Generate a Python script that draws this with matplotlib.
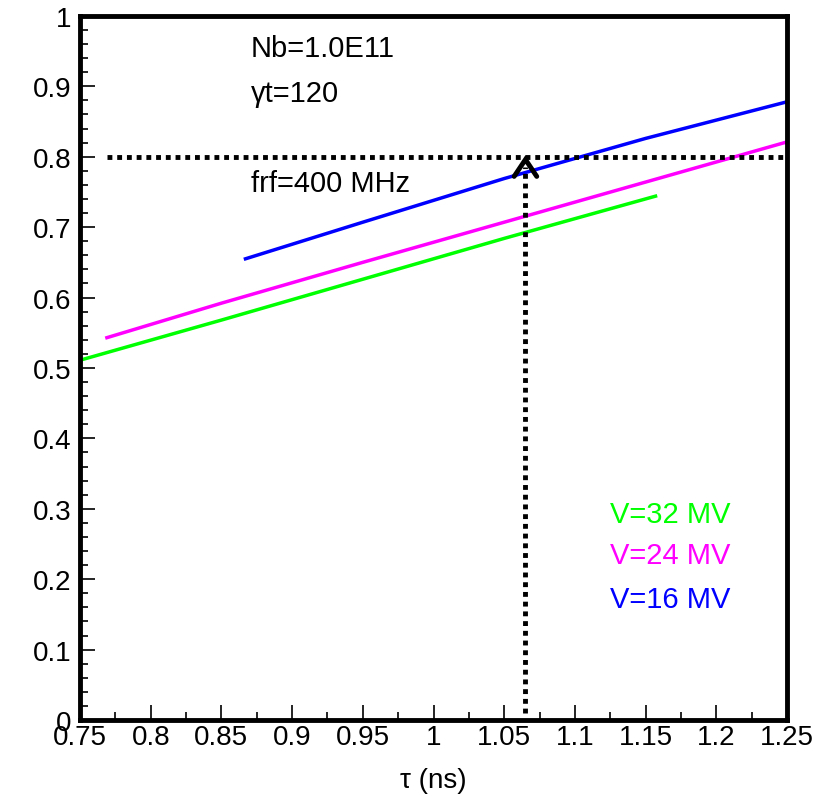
import numpy as np
import matplotlib
matplotlib.use("Agg")
import matplotlib.pyplot as plt
import matplotlib.ticker as mticker

plt.rcParams['font.family'] = ['Liberation Sans', 'DejaVu Sans']

# curves
tau_32 = [0.75, 0.85, 0.95, 1.05, 1.157]
val_32 = [0.511, 0.568, 0.626, 0.684, 0.744]

tau_24 = [0.769, 0.85, 0.95, 1.05, 1.15, 1.25]
val_24 = [0.543, 0.592, 0.650, 0.707, 0.764, 0.821]

tau_16 = [0.867, 0.95, 1.05, 1.15, 1.25]
val_16 = [0.655, 0.707, 0.769, 0.826, 0.878]

# reference lines
target_tau = 1.065
target_val = 0.80
hline_start = 0.769

fig = plt.figure(figsize=(8.31, 8.04), dpi=100)
ax = fig.add_axes((0.0963, 0.1032, 0.8508, 0.8758))

ax.plot(tau_32, val_32, color='#00ff00', lw=2.5)
ax.plot(tau_24, val_24, color='#ff00ff', lw=2.5)
ax.plot(tau_16, val_16, color='#0000ff', lw=2.5)

ax.plot([hline_start, 1.25], [target_val, target_val], color='k', lw=3.5,
        linestyle=(0, (1, 1)))
ax.plot([target_tau, target_tau], [0.01, target_val - 0.015], color='k', lw=3.5,
        linestyle=(0, (1, 1)))
# pointe de fleche
ax.plot([target_tau - 0.008, target_tau, target_tau + 0.008],
        [target_val - 0.028, target_val - 0.004, target_val - 0.028],
        color='k', lw=3.5, solid_capstyle='round', solid_joinstyle='miter')

ax.set_xlim(0.75, 1.25)
ax.set_ylim(0, 1)
ax.xaxis.set_major_locator(mticker.MultipleLocator(0.05))
ax.xaxis.set_minor_locator(mticker.MultipleLocator(0.025))
ax.yaxis.set_major_locator(mticker.MultipleLocator(0.1))
ax.yaxis.set_minor_locator(mticker.MultipleLocator(0.02))
ax.xaxis.set_major_formatter(mticker.FuncFormatter(lambda v, p: '%g' % round(v, 3)))
ax.yaxis.set_major_formatter(mticker.FuncFormatter(lambda v, p: '%g' % round(v, 3)))

ax.tick_params(which='both', direction='in', top=False, right=False,
               labelsize=20, width=1.2)
ax.tick_params(axis='y', pad=6)
ax.tick_params(axis='x', pad=3)
ax.tick_params(which='major', length=11)
ax.tick_params(which='minor', length=6)
for s in ax.spines.values():
    s.set_linewidth(3.5)

ax.set_xlabel('τ (ns)', fontsize=20, labelpad=12)

ax.text(0.871, 0.955, 'Nb=1.0E11', fontsize=21, va='center')
ax.text(0.871, 0.890, 'γt=120', fontsize=21, va='center')
ax.text(0.871, 0.763, 'frf=400 MHz', fontsize=21, va='center')

ax.text(1.125, 0.292, 'V=32 MV', fontsize=21, va='center', color='#00ff00')
ax.text(1.125, 0.235, 'V=24 MV', fontsize=21, va='center', color='#ff00ff')
ax.text(1.125, 0.172, 'V=16 MV', fontsize=21, va='center', color='#0000ff')

plt.savefig('out.png', dpi=100)
plt.close()
